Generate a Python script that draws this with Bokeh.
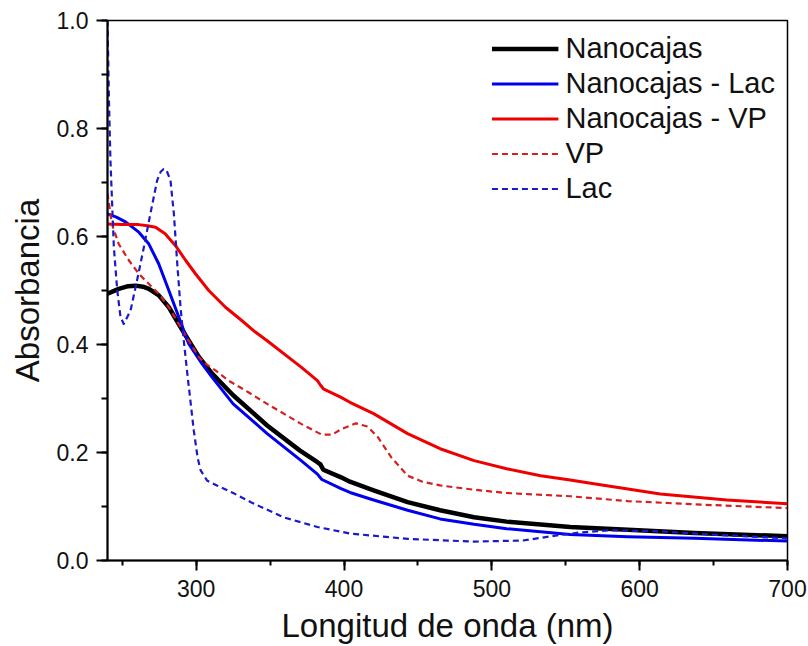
from bokeh.plotting import figure
from bokeh.models import Range1d, SingleIntervalTicker, PrintfTickFormatter, Legend, LegendItem
from bokeh.embed import file_html
from bokeh.resources import INLINE

# ---- data ----
nano_x = [240, 247.6, 254, 259, 264, 268, 274.7, 281.5, 288.2, 295, 301.8, 310.8, 325, 348, 370, 382, 384, 386, 398, 404, 420, 443, 465, 488, 510, 553, 592, 637, 700]
nano_y = [0.494, 0.503, 0.508, 0.509, 0.507, 0.503, 0.491, 0.469, 0.438, 0.407, 0.377, 0.346, 0.306, 0.250, 0.204, 0.182, 0.178, 0.168, 0.154, 0.146, 0.130, 0.108, 0.093, 0.080, 0.072, 0.062, 0.057, 0.051, 0.045]

nlac_x = [240, 246, 252.2, 261.2, 268, 274.7, 281.5, 288.2, 295, 304, 310.8, 325, 348, 371, 382, 385, 398, 404, 420, 443, 465, 488, 510, 553, 592, 637, 700]
nlac_y = [0.642, 0.636, 0.627, 0.608, 0.586, 0.549, 0.500, 0.451, 0.401, 0.364, 0.339, 0.290, 0.235, 0.185, 0.160, 0.150, 0.133, 0.126, 0.112, 0.093, 0.077, 0.067, 0.059, 0.048, 0.044, 0.041, 0.036]

nvp_x = [240, 250, 261, 267, 272.5, 279, 286, 292.8, 299.5, 308.5, 319.8, 331, 340, 348, 371, 382, 384, 386, 398, 404, 420, 443, 465, 488, 510, 533, 553, 569, 614, 659, 700]
nvp_y = [0.623, 0.622, 0.622, 0.620, 0.617, 0.605, 0.583, 0.556, 0.531, 0.500, 0.469, 0.444, 0.423, 0.407, 0.358, 0.333, 0.325, 0.318, 0.302, 0.293, 0.272, 0.235, 0.207, 0.185, 0.170, 0.157, 0.149, 0.142, 0.123, 0.112, 0.105]

vp_x = [240, 243, 247.6, 254.4, 261.2, 268, 274.7, 281.5, 288.2, 295, 301.8, 306, 313, 322, 335, 348, 371, 385, 392, 398, 408, 416, 423, 432, 443, 453, 465, 488, 510, 553, 592, 637, 700]
vp_y = [0.680, 0.623, 0.586, 0.556, 0.531, 0.512, 0.494, 0.469, 0.438, 0.407, 0.377, 0.365, 0.352, 0.333, 0.312, 0.290, 0.253, 0.233, 0.233, 0.243, 0.254, 0.248, 0.228, 0.191, 0.157, 0.146, 0.139, 0.131, 0.125, 0.119, 0.110, 0.104, 0.097]

lac_x = [240, 241, 242, 244.3, 246.6, 248.8, 251, 255.6, 260, 264.6, 269, 273.6, 276, 278, 280, 282.6, 284.9, 287.2, 289.4, 291.6, 294, 298.4, 301, 303, 307.4, 314, 325, 337, 359, 382, 404, 443, 488, 521, 543, 560, 580, 614, 648, 700]
lac_y = [1.000, 0.850, 0.740, 0.580, 0.500, 0.451, 0.438, 0.463, 0.519, 0.580, 0.642, 0.704, 0.720, 0.725, 0.722, 0.704, 0.642, 0.549, 0.469, 0.407, 0.346, 0.240, 0.190, 0.167, 0.148, 0.139, 0.125, 0.108, 0.080, 0.062, 0.050, 0.040, 0.035, 0.037, 0.046, 0.052, 0.056, 0.054, 0.048, 0.041]

labels = ["Nanocajas", "Nanocajas - Lac", "Nanocajas - VP", "VP", "Lac"]

FONT = "Liberation Sans"

p = figure(width=808, height=646, output_backend="svg", toolbar_location=None,
           x_range=Range1d(240, 700), y_range=Range1d(0, 1.0),
           min_border_left=107, min_border_right=21, min_border_top=20, min_border_bottom=86)
p.background_fill_color = "white"
p.border_fill_color = "white"
p.outline_line_color = "black"
p.outline_line_width = 1.5
p.xgrid.visible = False
p.ygrid.visible = False

r1 = p.line(nano_x, nano_y, line_color="black", line_width=4.5, line_join="round")
r2 = p.line(nlac_x, nlac_y, line_color="#0000ee", line_width=3, line_join="round")
r3 = p.line(nvp_x, nvp_y, line_color="#ee0000", line_width=3, line_join="round")
r4 = p.line(vp_x, vp_y, line_color="#d42020", line_width=2.2, line_dash="6 4", line_join="round")
r5 = p.line(lac_x, lac_y, line_color="#1a1ac8", line_width=2.2, line_dash="6 4", line_join="round")

xa = p.xaxis[0]
xa.ticker = SingleIntervalTicker(interval=100, num_minor_ticks=2)
xa.axis_label = "Longitud de onda (nm)"
ya = p.yaxis[0]
ya.ticker = SingleIntervalTicker(interval=0.2, num_minor_ticks=2)
ya.formatter = PrintfTickFormatter(format="%.1f")
ya.axis_label = "Absorbancia"

for ax in (xa, ya):
    ax.axis_line_color = "black"
    ax.axis_line_width = 2
    ax.major_tick_line_color = "black"
    ax.minor_tick_line_color = "black"
    ax.major_tick_line_width = 2
    ax.minor_tick_line_width = 2
    ax.major_tick_in = 0
    ax.minor_tick_in = 0
    ax.major_label_text_font = FONT
    ax.major_label_text_font_size = "23px"
    ax.major_label_text_color = "#111111"
    ax.axis_label_text_font = FONT
    ax.axis_label_text_font_size = "33px"
    ax.axis_label_text_font_style = "normal"
    ax.axis_label_text_color = "#111111"

xa.major_tick_out = 10
xa.minor_tick_out = 5
xa.major_label_standoff = 9
xa.axis_label_standoff = 7
ya.major_tick_out = 11
ya.minor_tick_out = 6
ya.major_label_standoff = 8
ya.axis_label_standoff = 8

legend = Legend(items=[LegendItem(label=l, renderers=[r]) for l, r in zip(labels, [r1, r2, r3, r4, r5])],
                location="top_right")
legend.border_line_color = None
legend.background_fill_alpha = 0
legend.padding = 0
legend.margin = 12
legend.spacing = 2
legend.glyph_width = 67
legend.glyph_height = 31
legend.label_height = 31
legend.label_standoff = 7
legend.label_text_font = FONT
legend.label_text_font_size = "29px"
legend.label_text_color = "#111111"
p.add_layout(legend)

open("out.html", "w").write(file_html(p, INLINE))
